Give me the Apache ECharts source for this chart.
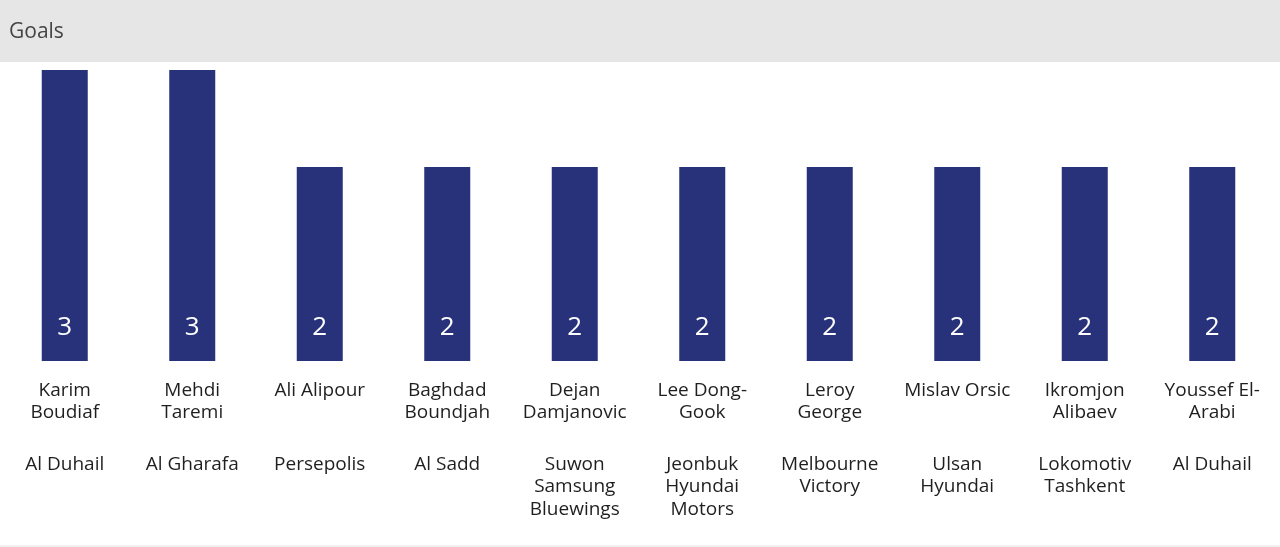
<!DOCTYPE html>
<html>
<head>
<meta charset="utf-8">
<script src="https://cdn.jsdelivr.net/npm/echarts@6/dist/echarts.min.js"></script>
<style>
html,body{margin:0;padding:0;background:#fff;}
#chart{width:1280px;height:547px;}
</style>
</head>
<body>
<div id="chart"></div>
<script>
var title = "Goals";
var players = ["Karim\nBoudiaf", "Mehdi\nTaremi", "Ali Alipour", "Baghdad\nBoundjah", "Dejan\nDamjanovic", "Lee Dong-\nGook", "Leroy\nGeorge", "Mislav Orsic", "Ikromjon\nAlibaev", "Youssef El-\nArabi"];
var teams = ["Al Duhail", "Al Gharafa", "Persepolis", "Al Sadd", "Suwon\nSamsung\nBluewings", "Jeonbuk\nHyundai\nMotors", "Melbourne\nVictory", "Ulsan\nHyundai", "Lokomotiv\nTashkent", "Al Duhail"];
var goals = [3, 3, 2, 2, 2, 2, 2, 2, 2, 2];

var categories = players.map(function (p, i) { return p + "|" + teams[i]; });
var FONT = "'Open Sans', 'DejaVu Sans', sans-serif";

var chart = echarts.init(document.getElementById('chart'), null, {renderer: 'canvas'});
chart.setOption({
  backgroundColor: '#ffffff',
  animation: false,
  title: {
    text: title,
    left: 9,
    top: 22,
    padding: 0,
    textStyle: {fontFamily: FONT, fontSize: 21, fontWeight: 'normal', color: '#444444'}
  },
  graphic: [
    {type: 'rect', left: 0, top: 0, z: -10, shape: {width: 1280, height: 62}, style: {fill: '#e6e6e6'}},
    {type: 'rect', left: 0, top: 545, z: -10, shape: {width: 1280, height: 2}, style: {fill: '#f0f0f0'}}
  ],
  grid: {left: 1, right: 4, top: 70, bottom: 186, containLabel: false},
  xAxis: {
    type: 'category',
    data: categories,
    axisLine: {show: false},
    axisTick: {show: false},
    axisLabel: {
      interval: 0,
      margin: 19,
      fontFamily: FONT,
      formatter: function (v) {
        var parts = v.split('|');
        var nameLines = parts[0].split('\n');
        while (nameLines.length < 2) nameLines.push(' ');
        var out = nameLines.map(function (l) { return '{n|' + l + '}'; });
        out.push('{s|}');
        parts[1].split('\n').forEach(function (l) { out.push('{t|' + l + '}'); });
        return out.join('\n');
      },
      rich: {
        n: {fontFamily: FONT, fontSize: 19, lineHeight: 22, color: '#1f1f1f', align: 'center'},
        s: {fontSize: 10, lineHeight: 29, height: 29},
        t: {fontFamily: FONT, fontSize: 19, lineHeight: 22.5, color: '#1f1f1f', align: 'center'}
      }
    }
  },
  yAxis: {
    type: 'value',
    min: 0,
    max: 3,
    show: false,
    splitLine: {show: false}
  },
  series: [{
    type: 'bar',
    data: goals,
    barWidth: 46,
    itemStyle: {color: '#27327a'},
    label: {
      show: true,
      position: 'insideBottom',
      distance: 20,
      color: '#ffffff',
      fontFamily: FONT,
      fontSize: 26
    }
  }]
});
</script>
</body>
</html>
